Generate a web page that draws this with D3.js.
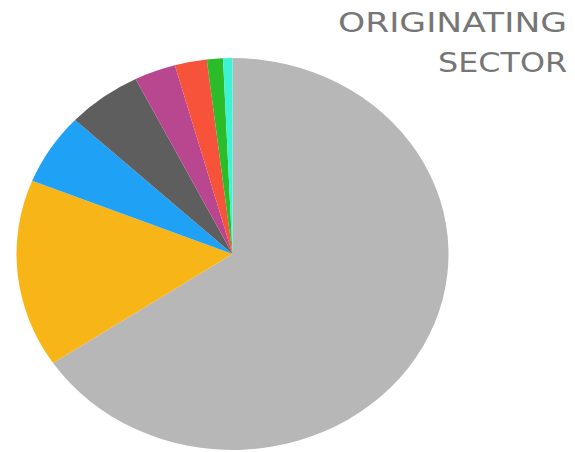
<!DOCTYPE html>
<html>
<head>
<meta charset="utf-8">
<script src="https://cdn.jsdelivr.net/npm/d3@7"></script>
<style>
html,body{margin:0;padding:0;background:#fff;}
svg{display:block;}
</style>
</head>
<body>
<svg id="chart" width="575" height="452"></svg>
<script>
const categories = ["Sector 1","Sector 2","Sector 3","Sector 4","Sector 5","Sector 6","Sector 7","Sector 8"];
const values = [65.6, 15.5, 5.9, 5.6, 3.1, 2.4, 1.2, 0.7];
const colors = ["#b8b7b8","#f8b518","#1fa2f6","#5e5e5e","#b8478f","#f6533a","#2cbc2a","#3cf3d4"];
const titleLines = ["ORIGINATING","SECTOR"];

const svg = d3.select("#chart");
const color = d3.scaleOrdinal().domain(categories).range(colors);
const pie = d3.pie().sort(null).value(d => d.v);
const arc = d3.arc().innerRadius(0).outerRadius(216);
const data = categories.map((c,i) => ({c, v: values[i]}));

const g = svg.append("g").attr("transform","translate(232.5,254) scale(1,0.907)");
g.selectAll("path").data(pie(data)).join("path")
  .attr("d", arc)
  .attr("fill", d => color(d.data.c));

svg.selectAll("text.title").data(titleLines).join("text")
  .attr("class","title")
  .attr("x", 567)
  .attr("y", (d,i) => 32 + i*40)
  .attr("text-anchor","end")
  .attr("font-family","'DejaVu Sans', sans-serif")
  .attr("font-size", 27)
  .attr("font-weight", 400)
  .attr("fill","#767676")
  .attr("textLength", (d,i) => i === 0 ? 229 : 129)
  .attr("lengthAdjust","spacingAndGlyphs")
  .text(d => d);
</script>
</body>
</html>
